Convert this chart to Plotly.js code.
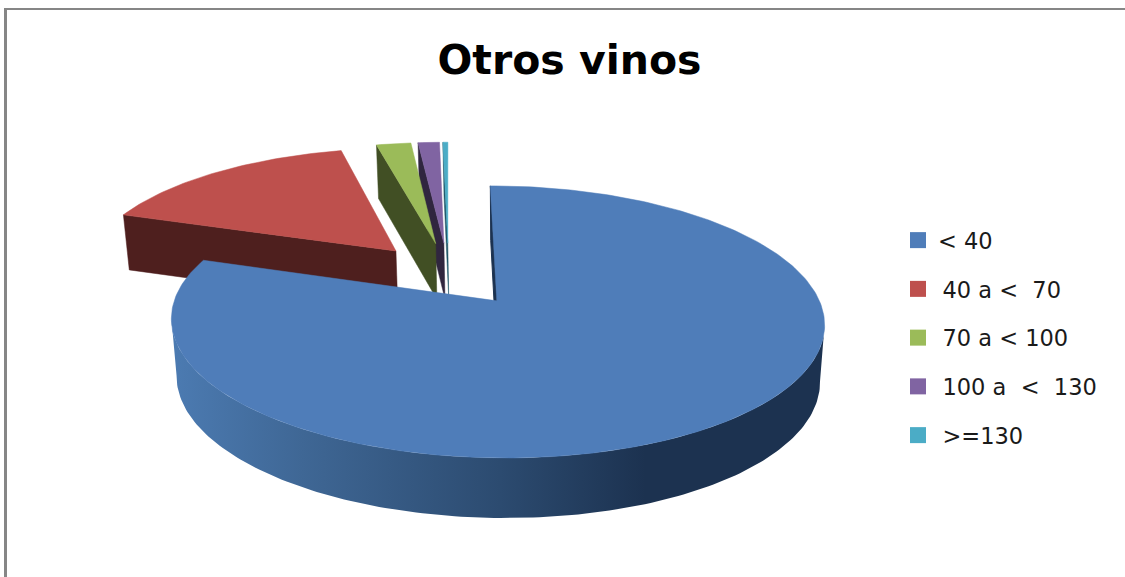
<!DOCTYPE html>
<html><head><meta charset="utf-8">
<script src="https://cdn.plot.ly/plotly-3.0.1.min.js"></script>
<style>html,body{margin:0;padding:0;background:#fff;overflow:hidden}#c{width:1125px;height:577px}</style>
</head><body><div id="c"></div>
<script>
const categories = ['< 40', '40 a <  70', '70 a < 100', '100 a  <  130', '>=130'];
const legendLabels = ['< 40', '\u200940 a <\u00a0\u00a070', '\u200970 a < 100', '\u2009100 a\u00a0\u00a0<\u00a0\u00a0130', '\u2009>=130'];
const values = [80.2, 16.1, 2.1, 1.3, 0.3];
const topColors = ['#4F7DB9', '#BE504D', '#9BBB59', '#8064A2', '#4BACC6'];
const wallColors = ['#1C3250', '#4E1F1E', '#414F24', '#30263F', '#1F5566'];
const startAngle = 0;

// projection of the tilted pie
const cx = 448.5, cy = 274, R = 312.5, S = 124.6, K = 0.15, EXPLODE = 0.257;
const WALL_SCALE = 0.985;
function project(u, v) { const w = 1 + K * v; return [cx + R * u / w, cy - S * v / w]; }
function drop(p) { return [cx + (p[0] - cx) * WALL_SCALE + 1, p[1] + 55 + (p[1] - 213) * 0.0204]; }

const total = values.reduce((a, b) => a + b, 0);
let running = startAngle;
const slices = values.map((val, i) => {
  const a0 = running, a1 = running + val / total * 360; running = a1;
  const mid = (a0 + a1) / 2 * Math.PI / 180;
  const ou = EXPLODE * Math.sin(mid), ov = EXPLODE * Math.cos(mid);
  const rim = [], n = Math.max(2, Math.ceil(a1 - a0));
  for (let j = 0; j <= n; j++) {
    const t = (a0 + (a1 - a0) * j / n) * Math.PI / 180;
    rim.push(project(ou + Math.sin(t), ov + Math.cos(t)));
  }
  return { i, apex: project(ou, ov), rim };
});

function poly(pts, color, extra) {
  const closed = pts.concat([pts[0]]);
  return Object.assign({
    type: 'scatter', mode: 'lines', x: closed.map(p => p[0]), y: closed.map(p => p[1]),
    fill: 'toself', fillcolor: color, line: { width: 0.5, color: color },
    hoverinfo: 'skip', showlegend: false
  }, extra || {});
}

const traces = [];
[4, 3, 2, 1].forEach(i => {
  const s = slices[i], first = s.rim[0];
  traces.push(poly([first, s.apex, drop(s.apex), drop(first)], wallColors[i]));
  traces.push(poly([s.apex].concat(s.rim), topColors[i]));
});
// front slice: the visible wall runs between the rim's right and left extremes
const b = slices[0];
let iR = 0, iL = 0;
b.rim.forEach((p, j) => { if (p[0] > b.rim[iR][0]) iR = j; if (p[0] < b.rim[iL][0]) iL = j; });
const frontRim = b.rim.slice(iR, iL + 1);
traces.push(poly([b.rim[0], b.apex, drop(b.apex), drop(b.rim[0])], wallColors[0], { line: { width: 1, color: wallColors[0] } }));
traces.push(poly(frontRim.concat(frontRim.map(drop).reverse()), '#2c4a6e', {
  line: { width: 0 },
  fillgradient: { type: 'horizontal', start: 170, stop: 830,
    colorscale: [[0, '#4C7BB2'], [0.2, '#3F6795'], [0.5, '#2C4B70'], [0.72, '#1C3250'], [1, '#1C3250']] }
}));
traces.push(poly([b.apex].concat(b.rim), topColors[0]));

// legend entries
categories.forEach((c, i) => {
  traces.push({
    type: 'scatter', mode: 'markers', x: [null], y: [null], name: legendLabels[i],
    legendgroup: 'g' + i, hoverinfo: 'skip',
    marker: { symbol: 'square', size: 16, color: topColors[i] }
  });
});

const layout = {
  width: 1125, height: 577, margin: { l: 0, r: 0, t: 0, b: 0 },
  paper_bgcolor: '#fff', plot_bgcolor: '#fff',
  xaxis: { range: [0, 1125], visible: false, fixedrange: true },
  yaxis: { range: [577, 0], visible: false, fixedrange: true },
  title: { text: '<b>Otros vinos</b>', x: 569.5 / 1125, xanchor: 'center', y: 1 - 60 / 577, yanchor: 'middle',
           font: { family: 'DejaVu Sans', size: 41, color: '#000' } },
  showlegend: true,
  legend: { x: 898 / 1125, y: 1 - 219 / 577, xanchor: 'left', yanchor: 'top', traceorder: 'grouped',
            tracegroupgap: 16.5, itemclick: false, itemdoubleclick: false, bgcolor: 'rgba(0,0,0,0)',
            font: { family: 'DejaVu Sans', size: 22.5, color: '#1a1a1a' } },
  shapes: [
    { type: 'line', xref: 'x', yref: 'y', x0: 4, x1: 1125, y0: 9, y1: 9, line: { color: '#868686', width: 2 } },
    { type: 'line', xref: 'x', yref: 'y', x0: 5.5, x1: 5.5, y0: 8, y1: 577, line: { color: '#868686', width: 3 } }
  ]
};
Plotly.newPlot('c', traces, layout, { displayModeBar: false });
</script></body></html>
